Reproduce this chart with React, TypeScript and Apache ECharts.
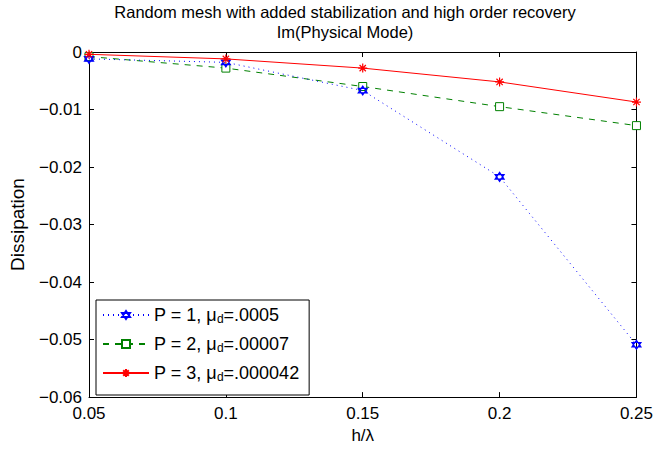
import React, { useEffect, useRef } from "react";
import * as echarts from "echarts";

const xValues = [0.05, 0.1, 0.15, 0.2, 0.25];
const p1Values = [-0.0012, -0.0018, -0.0067, -0.0217, -0.0509];
const p2Values = [-0.0008, -0.0028, -0.006, -0.0095, -0.0128];
const p3Values = [-0.0004, -0.0012, -0.0028, -0.0052, -0.0087];
const seriesNames = ["P = 1", "P = 2", "P = 3"];
const muValues = [".0005", ".00007", ".000042"];
const titleLines = ["Random mesh with added stabilization and high order recovery", "Im(Physical Mode)"];

const FONT = "Liberation Sans, Arial, Helvetica, sans-serif";

const HEXAGRAM = "path://M0,-1L0.866,0.5L-0.866,0.5ZM0,1L0.866,-0.5L-0.866,-0.5Z";
const ASTERISK = "path://M0,-1L0,1M-1,0L1,0M-0.7,-0.7L0.7,0.7M-0.7,0.7L0.7,-0.7";

export default function App() {
  const ref = useRef<HTMLDivElement>(null);
  useEffect(() => {
    if (!ref.current) return;
    const chart = echarts.init(ref.current, null, { renderer: "svg" });
    const toPairs = (vals: number[]) => xValues.map((x, i) => [x, vals[i]]);
    const fmtY = (v: number) => {
      if (Math.abs(v) < 1e-9) return "0";
      const s = Math.abs(v).toFixed(2);
      return (v < 0 ? "\u2212" : "") + s;
    };
    const axisCommon = {
      axisLine: { show: true, onZero: false, lineStyle: { color: "#000", width: 1 } },
      axisTick: { show: true, inside: true, length: 5, lineStyle: { color: "#000" } },
      splitLine: { show: false },
    };
    const titleStyle = { fontFamily: FONT, fontSize: 16.5, fontWeight: "normal", color: "#000", lineHeight: 18 };
    chart.setOption({
      animation: false,
      backgroundColor: "#fff",
      textStyle: { fontFamily: FONT },
      title: titleLines.map((t, i) => ({
        text: t,
        left: 345,
        top: 3 + i * 20,
        padding: 0,
        textAlign: "center",
        textStyle: titleStyle,
      })),
      grid: { left: 89, right: 15, top: 52, bottom: 47 },
      xAxis: [
        {
          type: "value",
          position: "bottom",
          min: 0.05,
          max: 0.25,
          interval: 0.05,
          name: "h/\u03bb",
          nameLocation: "middle",
          nameGap: 26,
          nameTextStyle: { fontFamily: FONT, fontSize: 17, color: "#000" },
          axisLabel: { color: "#000", fontSize: 17, fontFamily: FONT, margin: 8 },
          ...axisCommon,
        },
        {
          type: "value",
          position: "top",
          min: 0.05,
          max: 0.25,
          interval: 0.05,
          axisLabel: { show: false },
          ...axisCommon,
        },
      ],
      yAxis: [
        {
          type: "value",
          position: "left",
          min: -0.06,
          max: 0,
          interval: 0.01,
          name: "Dissipation",
          nameLocation: "middle",
          nameGap: 62,
          nameTextStyle: { fontFamily: FONT, fontSize: 19, color: "#000" },
          axisLabel: { color: "#000", fontSize: 17, fontFamily: FONT, margin: 7, formatter: fmtY },
          ...axisCommon,
        },
        {
          type: "value",
          position: "right",
          min: -0.06,
          max: 0,
          interval: 0.01,
          axisLabel: { show: false },
          ...axisCommon,
        },
      ],
      legend: {
        orient: "vertical",
        left: 96,
        top: 300,
        width: 220,
        height: 96,
        padding: [5, 10, 12, 6],
        itemWidth: 46,
        itemHeight: 10,
        itemGap: 9,
        borderColor: "#000",
        borderWidth: 1,
        backgroundColor: "#fff",
        data: seriesNames,
        formatter: (name: string) => {
          const i = seriesNames.indexOf(name);
          return `{a|${name}, \u03bc}{s|d}{a|=${muValues[i]}}`;
        },
        textStyle: {
          color: "#000",
          fontFamily: FONT,
          fontSize: 18,
          rich: {
            a: { fontSize: 18, fontFamily: FONT, color: "#000", lineHeight: 20 },
            s: { fontSize: 12, fontFamily: FONT, color: "#000", lineHeight: 20, padding: [8, 0, 0, 0] },
          },
        },
      },
      series: [
        {
          name: seriesNames[0],
          type: "line",
          data: toPairs(p1Values),
          symbol: HEXAGRAM,
          symbolSize: 9,
          showAllSymbol: true,
          lineStyle: { color: "#0000ff", width: 1, type: [1, 4] },
          itemStyle: { color: "#0000ff", borderColor: "#0000ff", borderWidth: 1.2 },
          z: 3,
        },
        {
          name: seriesNames[1],
          type: "line",
          data: toPairs(p2Values),
          symbol: "rect",
          symbolSize: 8,
          lineStyle: { color: "#008000", width: 1, type: [6, 6] },
          itemStyle: { color: "#fff", borderColor: "#008000", borderWidth: 1 },
          z: 2,
        },
        {
          name: seriesNames[2],
          type: "line",
          data: toPairs(p3Values),
          symbol: ASTERISK,
          symbolSize: 9,
          lineStyle: { color: "#ff0000", width: 1 },
          itemStyle: { color: "#ff0000", borderColor: "#ff0000", borderWidth: 1.2 },
          z: 4,
        },
      ],
    });
    return () => chart.dispose();
  }, []);
  return <div ref={ref} style={{ width: 656, height: 449, position: "absolute", left: 0, top: 0 }} />;
}
